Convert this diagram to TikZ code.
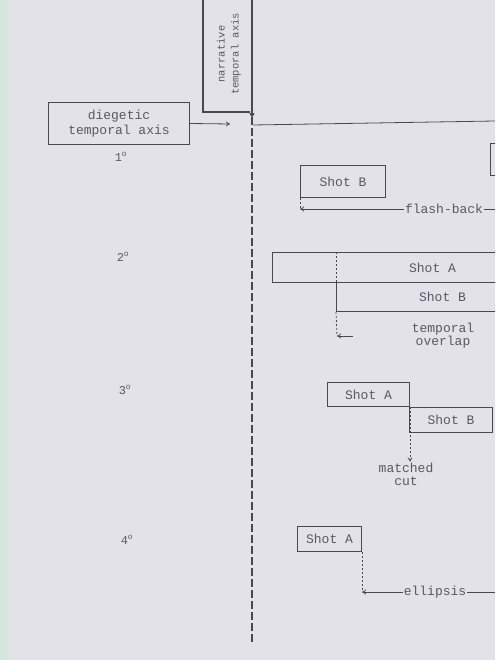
\documentclass[tikz,border=0pt]{standalone}
\usepackage{fontspec}
\setmonofont{Liberation Mono}
\usetikzlibrary{arrows.meta}
\definecolor{screen}{RGB}{228,226,233}
\definecolor{rim}{RGB}{214,232,222}
\definecolor{ink}{RGB}{72,72,84}
\definecolor{print}{RGB}{88,88,100}
\begin{document}
\begin{tikzpicture}[x=1pt,y=-1pt,
  shot/.style={draw=ink,line width=1pt,inner sep=0pt,anchor=north west,text=print,font=\ttfamily\fontsize{13}{15}\selectfont},
  lbl/.style={text=print,align=center,inner sep=1pt,font=\ttfamily\fontsize{13}{13}\selectfont},
  ordinal/.style={text=print,inner sep=0pt,font=\ttfamily\fontsize{12}{12}\selectfont},
  axisline/.style={ink,line width=1.2pt},
  link/.style={ink,line width=0.8pt},
  dots/.style={ink,line width=0.8pt,dash pattern=on 2pt off 2pt},
  tip/.style={-{To[length=4pt,width=5pt]}}]
\useasboundingbox (0,0) rectangle (495,660);
\fill[screen] (0,0) rectangle (495,660);
\fill[rim] (0,0) rectangle (10,660);
\clip (0,0) rectangle (495,660);

% the two axes
\node[lbl,rotate=90,font=\ttfamily\fontsize{10.5}{14}\selectfont] (narrative) at (229,54) {narrative\\temporal axis};
\coordinate (narrTop) at (252,-5);
\coordinate (narrFoot) at (252,117);
\coordinate (axisEnd) at (252,642);
\draw[axisline] (203,-5) -- (203,112) -- (250,112);
\draw[axisline,tip] (narrTop) -- (narrFoot);
\draw[axisline,dash pattern=on 8pt off 3pt] (narrFoot) -- (axisEnd);

\node[shot,minimum width=141pt,minimum height=42pt,align=center] (diegetic) at (48,102) {diegetic\\temporal axis};
\coordinate (dgTip) at (230,124);
\draw[link,tip] (diegetic.east) -- (dgTip);
\coordinate (hStart) at (253,125);
\coordinate (hEnd) at (495,121);
\draw[link] (hStart) -- (hEnd);

% order of the cases
\node[ordinal] (n1) at (121,157) {1\textsuperscript{o}};
\node[ordinal] (n2) at (123,257) {2\textsuperscript{o}};
\node[ordinal] (n3) at (125,390) {3\textsuperscript{o}};
\node[ordinal] (n4) at (127,540) {4\textsuperscript{o}};

% 1: flash-back
\node[shot,minimum width=40pt,minimum height=32pt] (fbA) at (490,143) {};
\node[shot,minimum width=85pt,minimum height=32pt] (fbB) at (300,165) {Shot B};
\node[lbl] (fbText) at (444,209) {flash-back};
\coordinate (fbEnd) at (495,209);
\draw[dots] (fbB.south west) -- (fbB.south west |- fbText.west);
\draw[link,tip] (fbText.west) -- (fbB.south west |- fbText.west);
\draw[link] (fbText.east) -- (fbEnd);

% 2: temporal overlap
\node[shot,minimum width=320pt,minimum height=30pt] (ovA) at (272,252) {Shot A};
\node[shot,minimum width=212pt,minimum height=29pt] (ovB) at (336,282) {Shot B};
\node[lbl] (ovText) at (443,336) {temporal\\overlap};
\coordinate (ovTip) at (337,336);
\coordinate (ovTail) at (353,336);
\draw[dots] (ovB.north west |- ovA.north) -- (ovB.north west);
\draw[dots] (ovB.south west) -- (ovTip);
\draw[link,tip] (ovTail) -- (ovTip);

% 3: matched cut
\node[shot,minimum width=82pt,minimum height=24pt] (mcA) at (327,382) {Shot A};
\node[shot,minimum width=83pt,minimum height=25pt] (mcB) at (409,407) {Shot B};
\node[lbl] (mcText) at (406,474) {matched\\cut};
\draw[dots,tip] (mcA.south east) -- (mcA.south east |- mcText.north);

% 4: ellipsis
\node[shot,minimum width=64pt,minimum height=25pt] (elA) at (297,526) {Shot A};
\node[lbl] (elText) at (435,592) {ellipsis};
\coordinate (elEnd) at (495,592);
\draw[dots] (elA.south east) -- (elA.south east |- elText.west);
\draw[link,tip] (elText.west) -- (elA.south east |- elText.west);
\draw[link] (elText.east) -- (elEnd);
\end{tikzpicture}
\end{document}
